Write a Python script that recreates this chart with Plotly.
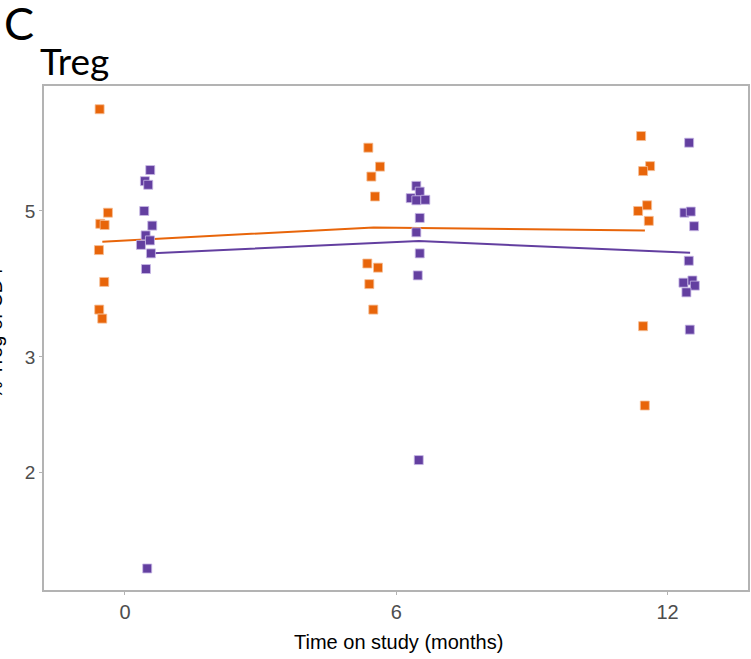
import plotly.graph_objects as go

# Jittered x positions (months) and values (% Treg of CD4)
orange_x = [-0.56, -0.376, -0.546, -0.449, -0.575, -0.458, -0.569, -0.502,
            5.383, 5.642, 5.45, 5.531, 5.361, 5.597, 5.405, 5.493,
            11.416, 11.615, 11.46, 11.549, 11.35, 11.586, 11.46, 11.498]
orange_y = [7.14, 4.97, 4.78, 4.76, 4.36, 3.90, 3.54, 3.43,
            6.24, 5.84, 5.64, 5.26, 4.16, 4.10, 3.87, 3.54,
            6.50, 5.85, 5.75, 5.10, 5.00, 4.83, 3.34, 2.53]

purple_x = [0.56, 0.442, 0.515, 0.427, 0.604, 0.458, 0.553, 0.354, 0.575, 0.465, 0.493,
            6.445, 6.52, 6.32, 6.445, 6.644, 6.52, 6.445, 6.52, 6.476, 6.498,
            12.478, 12.374, 12.515, 12.588, 12.471, 12.352, 12.551, 12.604, 12.418, 12.493]
purple_y = [5.77, 5.55, 5.48, 5.00, 4.75, 4.59, 4.51, 4.44, 4.31, 4.08, 1.43,
            5.46, 5.35, 5.23, 5.19, 5.20, 4.88, 4.64, 4.31, 3.99, 2.09,
            6.35, 4.97, 4.99, 4.74, 4.20, 3.89, 3.92, 3.85, 3.76, 3.30]

# Group mean lines (dodged positions)
orange_line_x = [-0.5, 5.5, 11.5]
orange_line_y = [4.49, 4.72, 4.67]
purple_line_x = [0.5, 6.5, 12.5]
purple_line_y = [4.31, 4.50, 4.32]

x_ticks = [0, 6, 12]
y_ticks = [2, 3, 5]

ORANGE = "#E8650A"
PURPLE = "#633FA0"

W, H = 751, 659
ML, MR, MT, MB = 44, 3, 86, 69
PW, PH = W - ML - MR, H - MT - MB

fig = go.Figure()
fig.add_trace(go.Scatter(x=orange_line_x, y=orange_line_y, mode="lines",
                         line=dict(color=ORANGE, width=2), showlegend=False, hoverinfo="skip"))
fig.add_trace(go.Scatter(x=purple_line_x, y=purple_line_y, mode="lines",
                         line=dict(color=PURPLE, width=2), showlegend=False, hoverinfo="skip"))
fig.add_trace(go.Scatter(x=orange_x, y=orange_y, mode="markers",
                         marker=dict(symbol="square", size=9, color=ORANGE,
                                     line=dict(color="rgba(245,190,150,0.8)", width=1)),
                         showlegend=False))
fig.add_trace(go.Scatter(x=purple_x, y=purple_y, mode="markers",
                         marker=dict(symbol="square", size=9, color=PURPLE,
                                     line=dict(color="rgba(200,185,230,0.8)", width=1)),
                         showlegend=False))

fig.update_layout(
    width=W, height=H,
    margin=dict(l=ML, r=MR, t=MT, b=MB, autoexpand=False),
    paper_bgcolor="white", plot_bgcolor="white",
    font=dict(family="Liberation Sans, Arial, sans-serif", color="#4d4d4d"),
    xaxis=dict(range=[-1.79, 13.78], tickvals=x_ticks, ticktext=[str(t) for t in x_ticks],
               automargin=False,
               showgrid=False, zeroline=False, showline=True, mirror=True,
               linecolor="#b3b3b3", linewidth=1.5, ticks="outside", ticklen=3,
               tickcolor="#b3b3b3", tickfont=dict(size=20, color="#4d4d4d")),
    yaxis=dict(type="log", range=[0.1226, 0.889], tickvals=y_ticks,
               ticktext=[str(t) for t in y_ticks], automargin=False,
               showgrid=False, zeroline=False, showline=True, mirror=True,
               linecolor="#b3b3b3", linewidth=1.5, ticks="outside", ticklen=3,
               tickcolor="#b3b3b3", tickfont=dict(size=19, color="#4d4d4d")),
)

def px_x(p):
    return (p - ML) / PW

def px_y(p):
    return (H - MB - p) / PH

fig.add_annotation(text="C", xref="paper", yref="paper", x=px_x(2), y=px_y(23),
                   xanchor="left", yanchor="middle", showarrow=False,
                   font=dict(family="Lato, Liberation Sans, sans-serif", size=45, color="black"))
fig.add_annotation(text="Treg", xref="paper", yref="paper", x=px_x(38), y=px_y(61),
                   xanchor="left", yanchor="middle", showarrow=False,
                   font=dict(family="Lato, Liberation Sans, sans-serif", size=37, color="black"))
fig.add_annotation(text="Time on study (months)", xref="paper", yref="paper",
                   x=px_x(398), y=px_y(642), xanchor="center", yanchor="middle",
                   showarrow=False,
                   font=dict(family="Liberation Sans, Arial, sans-serif", size=20, color="black"))
fig.add_annotation(text="% Treg of CD4", xref="paper", yref="paper", x=px_x(-5), y=px_y(334),
                   xanchor="center", yanchor="middle", textangle=-90, showarrow=False,
                   font=dict(family="Liberation Sans, Arial, sans-serif", size=20, color="black"))

fig.write_html("out.html", config={"displayModeBar": False},
               post_script="document.body.style.margin='0';document.body.style.padding='0';")
